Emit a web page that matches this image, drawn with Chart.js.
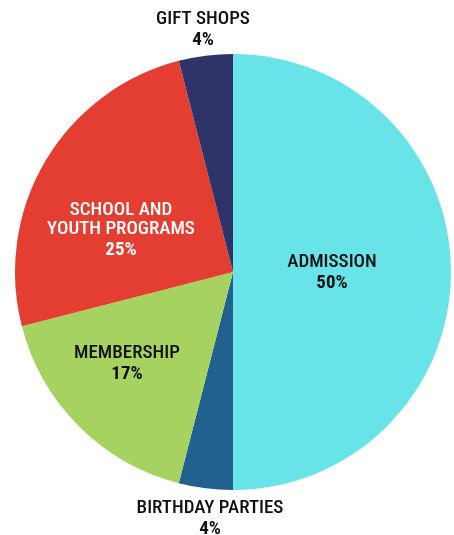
<!DOCTYPE html>
<html>
<head>
<meta charset="utf-8">
<script src="https://cdn.jsdelivr.net/npm/chart.js@4.4.1/dist/chart.umd.min.js"></script>
<style>
  html, body { margin: 0; padding: 0; background: #fff; }
  #wrap { width: 454px; height: 535px; position: relative; }
</style>
</head>
<body>
<div id="wrap"><canvas id="pie"></canvas></div>
<script>
// revenue split, clockwise from 12 o'clock
const categories = ['ADMISSION', 'BIRTHDAY PARTIES', 'MEMBERSHIP', 'SCHOOL AND\nYOUTH PROGRAMS', 'GIFT SHOPS'];
const shares = [50, 4, 17, 25, 4];
const sliceColors = ['#68e4e8', '#22608f', '#a6d35f', '#e43d31', '#2e3468'];
const textColors = ['#111', '#111', '#111', '#fff', '#111'];

// where each label block sits, relative to the pie centre (px)
const labelAnchor = [
    [99, 0],      // admission
    [-23, 246],   // birthday parties (below the pie)
    [-106, 91],   // membership
    [-112, -43],  // school & youth
    [-30, -243]   // gift shops (above the pie)
];

const FONT = '"Roboto Condensed", "Liberation Sans Narrow", "Liberation Sans", sans-serif';

const labelPlugin = {
    id: 'sliceLabels',
    afterDatasetsDraw(chart) {
        const ctx = chart.ctx;
        const arcs = chart.getDatasetMeta(0).data;
        ctx.save();
        ctx.textAlign = 'center';
        ctx.textBaseline = 'middle';
        arcs.forEach((arc, i) => {
            const cx = arc.x + labelAnchor[i][0];
            const cy = arc.y + labelAnchor[i][1];
            const lines = categories[i].split('\n');
            const lh = 19;
            const total = lines.length + 1;
            let y = cy - (total - 1) * lh / 2;
            ctx.fillStyle = textColors[i];
            ctx.font = '500 19px ' + FONT;
            lines.forEach(l => { ctx.fillText(l, cx, y); y += lh; });
            ctx.font = 'bold 19px ' + FONT;
            ctx.fillText(shares[i] + '%', cx, y + 2);
        });
        ctx.restore();
    }
};

new Chart(document.getElementById('pie'), {
    type: 'pie',
    data: {
        labels: categories,
        datasets: [{
            data: shares,
            backgroundColor: sliceColors,
            borderWidth: 0
        }]
    },
    options: {
        responsive: true,
        maintainAspectRatio: false,
        animation: false,
        layout: { padding: { left: 15, right: 3, top: 54, bottom: 45 } },
        plugins: {
            legend: { display: false },
            tooltip: { enabled: false }
        }
    },
    plugins: [labelPlugin]
});
</script>
</body>
</html>
